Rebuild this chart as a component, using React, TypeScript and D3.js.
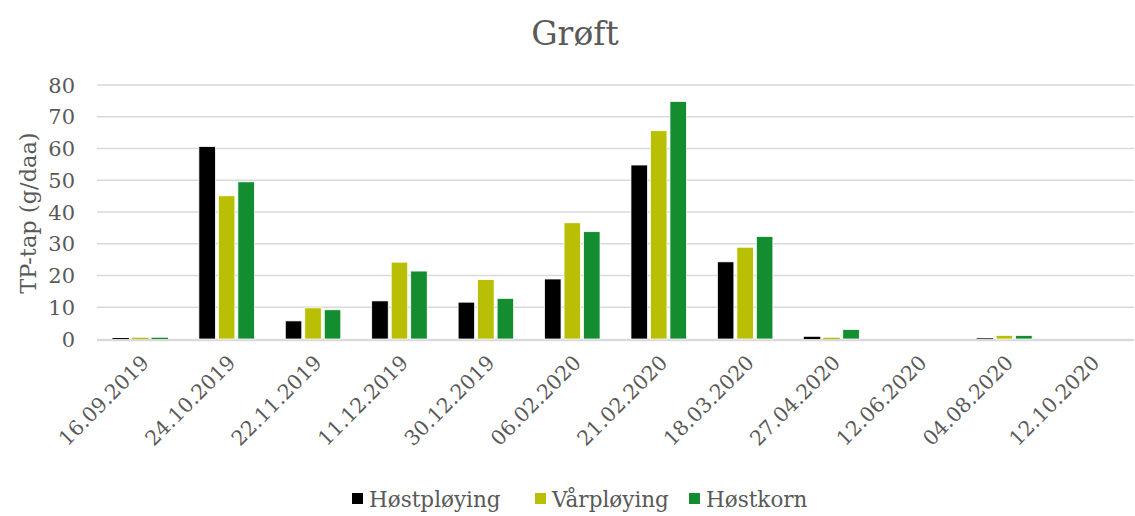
import React from "react";
import * as d3 from "d3";

const categories = [
  "16.09.2019", "24.10.2019", "22.11.2019", "11.12.2019", "30.12.2019", "06.02.2020",
  "21.02.2020", "18.03.2020", "27.04.2020", "12.06.2020", "04.08.2020", "12.10.2020",
];
const hostploying = [0.3, 60.6, 5.7, 12.0, 11.6, 18.9, 54.8, 24.3, 0.7, 0, 0.2, 0];
const varploying = [0.4, 45.1, 9.8, 24.2, 18.7, 36.6, 65.6, 28.9, 0.4, 0, 1.1, 0];
const hostkorn = [0.4, 49.5, 9.2, 21.4, 12.8, 33.8, 74.8, 32.3, 3.0, 0, 1.1, 0];
const seriesNames = ["Høstpløying", "Vårpløying", "Høstkorn"];
const seriesColors = ["#000000", "#b9bf04", "#148d30"];
const yTicks = [0, 10, 20, 30, 40, 50, 60, 70, 80];

const W = 1135, H = 516;
const FONT = "'DejaVu Serif', Georgia, serif";
const TEXT = "#595959";

export default function App() {
  const left = 97, right = 1134, top = 85, bottom = 339;
  const x = d3.scaleBand<string>().domain(categories).range([left, right]).paddingInner(0).paddingOuter(0);
  const y = d3.scaleLinear().domain([0, 80]).range([bottom, top]);
  const all = [hostploying, varploying, hostkorn];
  const barW = 16.5, gap = 3;
  const groupW = barW * 3 + gap * 2;
  const legendItems = [
    { x: 352, name: seriesNames[0], color: seriesColors[0] },
    { x: 535, name: seriesNames[1], color: seriesColors[1] },
    { x: 689, name: seriesNames[2], color: seriesColors[2] },
  ];
  return (
    <svg width={W} height={H} style={{ position: "absolute", left: 0, top: 0, background: "#fff" }} fontFamily={FONT}>
      <rect width={W} height={H} fill="#fff" />
      <text x={575} y={45} textAnchor="middle" fontSize={33} fill={TEXT}>Grøft</text>
      {yTicks.map((t) => (
        <g key={t}>
          {t !== 0 && (
            <line x1={left} x2={right} y1={y(t)} y2={y(t)} stroke="#d9d9d9" strokeWidth={1.5} />
          )}
          <text x={75} y={y(t) + 7.5} textAnchor="end" fontSize={21} fill={TEXT}>{t}</text>
        </g>
      ))}
      <text transform={`translate(36,213) rotate(-90)`} textAnchor="middle" fontSize={22.5} fill={TEXT}>TP-tap (g/daa)</text>
      <line x1={left} x2={right} y1={y(0) + 1} y2={y(0) + 1} stroke="#d9d9d9" strokeWidth={2.5} />
      {categories.map((c, i) => {
        const cx = (x(c) as number) + x.bandwidth() / 2;
        const x0 = cx - groupW / 2;
        return (
          <g key={c}>
            {all.map((s, k) => {
              const v = s[i];
              if (v <= 0) return null;
              const h = y(0) - y(v);
              return (
                <rect key={k} x={x0 + k * (barW + gap)} y={y(v)} width={barW} height={h}
                  fill={seriesColors[k]} stroke={h > 3 ? "#fff" : "none"} strokeWidth={0.75} />
              );
            })}
            <text transform={`translate(${cx + 10},${364}) rotate(-45)`} textAnchor="end" fontSize={20.5} fill={TEXT}>{c}</text>
          </g>
        );
      })}
      {legendItems.map((l) => (
        <g key={l.name}>
          <rect x={l.x} y={493} width={11} height={11} fill={l.color} />
          <text x={l.x + 17} y={507} fontSize={21.5} fill={TEXT}>{l.name}</text>
        </g>
      ))}
    </svg>
  );
}
